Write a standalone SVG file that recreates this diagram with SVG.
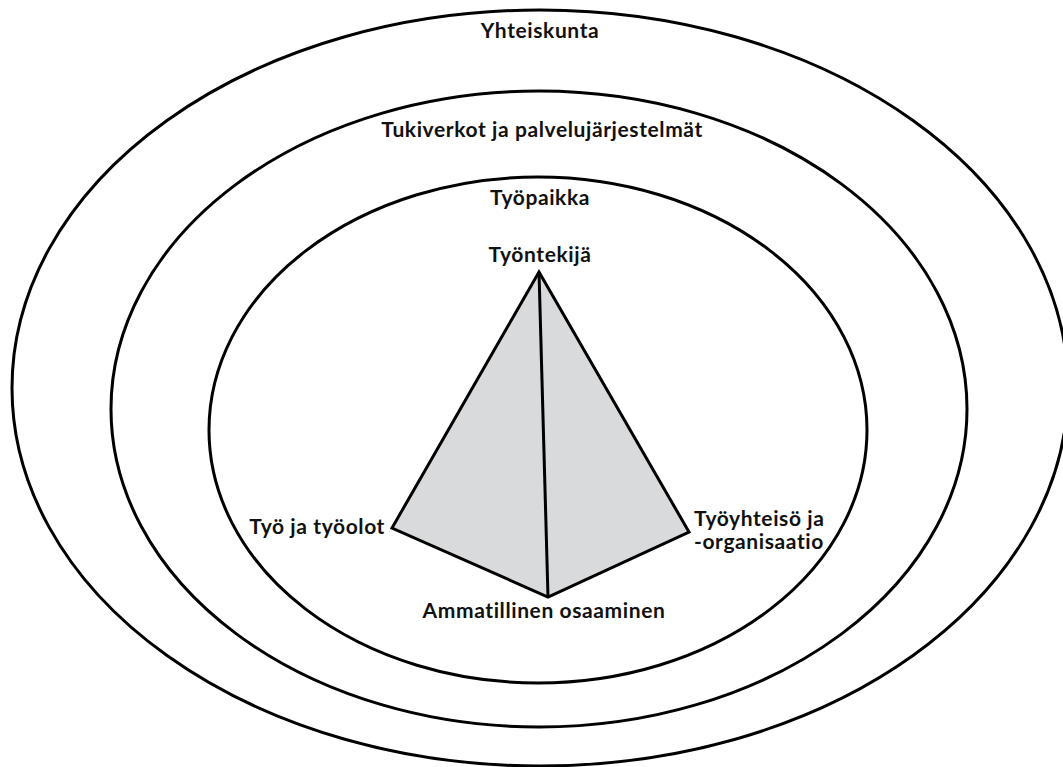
<svg xmlns="http://www.w3.org/2000/svg" width="1063" height="767" viewBox="0 0 1063 767">
<style>
.ring{fill:none;stroke:#000;stroke-width:3}
.lbl{font-family:Lato,"Open Sans","Liberation Sans",sans-serif;font-weight:bold;font-size:21px;letter-spacing:0.6px;fill:#111}
.c{text-anchor:middle}
.face{fill:#d9dadc;stroke:#000;stroke-width:3;stroke-linejoin:miter}
.edge{stroke:#000;stroke-width:3;fill:none}
</style>
<rect width="1063" height="767" fill="#fff"/>
<g id="yhteiskunta">
<ellipse class="ring" cx="540" cy="388" rx="528" ry="378"/>
<text class="lbl c" x="540" y="38">Yhteiskunta</text>
</g>
<g id="tukiverkot">
<ellipse class="ring" cx="539" cy="409" rx="428" ry="318"/>
<text class="lbl c" x="542" y="137">Tukiverkot ja palvelujärjestelmät</text>
</g>
<g id="tyopaikka">
<ellipse class="ring" cx="538" cy="430" rx="329" ry="253"/>
<text class="lbl c" x="540" y="205">Työpaikka</text>
</g>
<g id="pyramid">
<polygon class="face" points="539,272 392,528 548,597 689,532"/>
</g>
<g id="connectors">
<line class="edge" x1="539" y1="272" x2="548" y2="597"/>
</g>
<g id="tyontekija">
<text class="lbl c" x="540" y="262">Työntekijä</text>
</g>
<g id="tyo">
<text class="lbl" x="385" y="534" text-anchor="end">Työ ja työolot</text>
</g>
<g id="tyoyhteiso">
<text class="lbl" x="694" y="526">Työyhteisö ja</text>
<text class="lbl" x="694" y="549">-organisaatio</text>
</g>
<g id="osaaminen">
<text class="lbl c" x="544" y="618">Ammatillinen osaaminen</text>
</g>
</svg>
